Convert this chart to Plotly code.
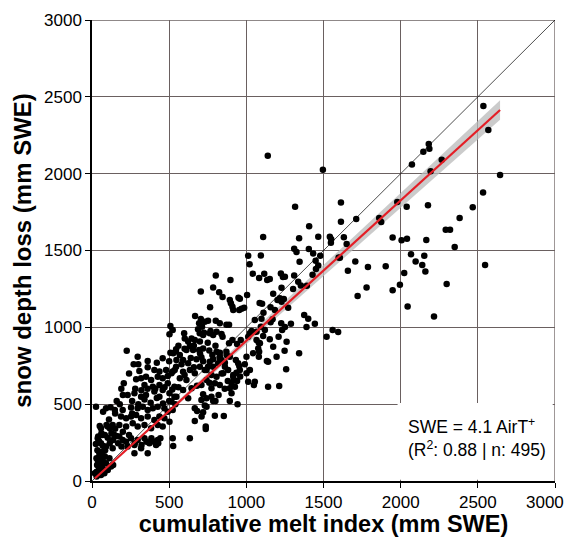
import numpy as np
import plotly.graph_objects as go

# ---------------- data ----------------
# cumulative melt index (x) and snow depth loss (y), mm SWE, grouped by region
A_x = [2536,2568,2644,2534,2547,2182,2186,2147,2266,2073,
       2194,1978,2039,2177,2467,2382,1712,1861,1874,1613,
       1613,1632,1650,1606,1948,2006,2041,2166,2292,2320,
       2350,1706,1658,1788,1903,2067,2097,2153,2140,2160,
       2023,1995,1948,1779,1721,2298,2045,2216]
A_y = [2440,2284,1991,1878,1405,2193,2162,2143,2091,2060,
       2015,1815,1785,1794,1781,1711,1705,1711,1685,1813,
       1687,1587,1542,1453,1585,1566,1577,1568,1635,1635,
       1522,1429,1368,1392,1397,1475,1429,1466,1405,1364,
       1353,1277,1241,1260,1204,1282,1136,1071]

B_x = [1139,1496,1316,1407,1109,1342,1466,1541,1550,1548,
       1310,1325,1405,1433,1479,1598,1012,1094,1021,1345,
       1449,1466,1451,1042,1116,1083,1135,1152,1224,1237,
       1250,1310,1336,1353,1429,1392,1228,1303,897,1174,
       1005,949,1217,1243]
B_y = [2117,2026,1785,1657,1588,1579,1589,1590,1573,1551,
       1511,1490,1509,1481,1466,1455,1466,1468,1410,1427,
       1433,1403,1379,1349,1349,1321,1308,1314,1351,1327,
       1329,1338,1297,1273,1342,1271,1258,1249,1308,1219,
       1210,1193,1189,1184]

C_x = [1086,1102,1157,1202,1228,1111,1271,1375,1401,1055,
       1098,1170,1226,1250,1232,1289,1157,1390,1444,1520,
       1559,1595,1066,1109,1152,1209,1261,1081,1077,1081,
       1174,1248,1342,1133,1258]
C_y = [1158,1154,1130,1178,1167,1095,1128,1080,1056,1048,
       1056,1052,1026,1002,982,1023,1033,1002,1023,939,
       982,969,971,943,922,939,906,900,863,809,
       874,848,831,781,727]

D_x = [802,785,824,846,705,765,893,900,910,915,
       954,969,986,958,1185,668,705,694,713,752,
       802,828,871,888,597,687,698,720,763,785,
       839,846,888,910,940,964,1012,1023,1034,1094,
       1120,1196,1141,1066,1088,1083,1044,1001,1001,1012,
       954,932,871,893,861,1055,1141,1213,807,828,
       839,817,785,763,752,731,936,915,919,940,
       796,828,774]
D_y = [1338,1260,1228,1197,1234,1130,1178,1156,1134,1113,
       1113,1121,1128,1186,1113,1074,1054,1026,1004,1043,
       1043,1026,1017,1017,961,987,961,950,961,950,
       956,939,896,917,891,917,939,961,976,1004,
       982,809,776,917,896,841,831,809,701,646,
       748,787,841,809,770,646,614,618,841,813,
       787,766,792,776,744,722,705,679,657,651,
       636,625,603]

E_x = [601,623,645,666,634,612,655,699,694,720,
       543,526,569,547,590,623,677,709,634,666,
       590,569,515,536,612,699,785,742,828,828,
       872,861,774,742,709,807,850,882,947,958,
       915,904,1023,926,731,726,768,807]
E_y = [928,907,928,918,878,852,852,907,852,863,
       842,831,820,787,787,766,792,805,722,701,
       711,668,701,722,657,744,744,722,798,835,
       820,744,690,657,625,679,701,722,766,722,
       690,636,722,614,1037,965,976,971]

F_x = [26,91,199,253,296,329,361,394,426,469,491,523,
       231,275,318,350,404,437,458,502,534,
       188,221,253,286,318,361,404,437,469,
       177,221,264,296,340,383,426,458,502,
       58,102,134,69,37,102,145,177,
       58,91,134,48,80,113,37,58,91,69,48,102,123,80,58,48,33,
       221,253,296,340,372,404,231,275,318,199,
       275,361,426,415,443,523]
F_y = [484,473,462,478,473,484,462,473,484,473,451,462,
       560,571,549,560,582,549,592,571,549,
       419,408,419,430,408,419,397,419,408,
       365,354,376,354,365,343,365,354,386,
       343,354,365,300,278,282,300,289,
       245,224,213,180,159,148,137,104,115,83,72,72,94,50,39,159,104,
       256,278,267,278,245,256,224,235,213,267,
       180,180,267,235,278,278]

G_x = [893,904,893,943,720,742,774,785,731,709,
       666,681,720,742,796,854,666,737,737,634,
       526,623,590,547,515,645,1049]
G_y = [603,571,521,499,564,538,549,521,491,527,
       473,456,447,484,425,423,391,354,339,278,
       228,538,592,549,517,603,625]

H_x = [508,523,502,225,296,361,458,508,545,307,
       361,404,437,480,523,545,286,318,350,383,
       426,458,491,206,340,394,437,491,534]
H_y = [1009,983,955,848,809,781,798,835,857,716,
       740,722,712,722,712,744,662,668,679,657,
       679,668,683,636,625,614,625,636,614]

I_x = [72,148,50,94,115,40,61,83,126,158,
       137,115,169,191,277,321,353,385,61,72,
       83,40,29,50,18,57,137,429,710]
I_y = [451,462,358,365,343,289,310,300,310,293,
       267,245,245,224,245,235,256,278,115,126,
       159,115,148,93,50,83,104,245,419]

J_x = [260,300,340,380,420,460,500,540,280,320,
       360,410,470,520,580,640,700,760,800,560,
       600,660,750,780,720,660,600,560,680,760,
       300,420,500,270,240,200,160,190,150,30,
       45,55,35,65,25,70,45,85,30,60,
       40,820,860,880,960,990,840,800,110,150,
       200,240,260,180,120]
J_y = [520,500,530,510,540,505,520,500,600,590,
       600,600,610,595,760,800,830,850,880,880,
       860,880,900,820,780,740,690,610,620,640,
       760,770,780,760,700,560,520,600,440,60,
       90,130,200,190,240,230,260,200,30,60,
       40,560,600,650,680,760,700,520,400,340,
       320,300,440,500,480]

# regression (through origin) and its confidence band
fit_slope = 0.913
ci_frac = 0.024

axis_ticks = [0, 500, 1000, 1500, 2000, 2500, 3000]
axis_max = 3000

x_title = "cumulative melt index (mm SWE)"
y_title = "snow depth loss (mm SWE)"
stats_text = "SWE = 4.1 AirT<sup>+</sup><br>(R<sup>2</sup>: 0.88 | n: 495)"

# ---------------- build ----------------
xs = np.array(A_x + B_x + C_x + D_x + E_x + F_x + G_x + H_x + I_x + J_x, dtype=float)
ys = np.array(A_y + B_y + C_y + D_y + E_y + F_y + G_y + H_y + I_y + J_y, dtype=float)

xfit = np.linspace(xs.min(), xs.max(), 100)
yfit = fit_slope * xfit
upper = yfit + ci_frac * xfit
lower = yfit - ci_frac * xfit

FONT = "Liberation Sans, Arial, sans-serif"
grid_col = "#6a6060"

fig = go.Figure()
fig.add_trace(go.Scatter(
    x=np.concatenate([xfit, xfit[::-1]]),
    y=np.concatenate([upper, lower[::-1]]),
    fill="toself", fillcolor="rgba(185,185,185,0.75)",
    line=dict(width=0), mode="lines", hoverinfo="skip", showlegend=False))
fig.add_trace(go.Scatter(
    x=[0, axis_max], y=[0, axis_max], mode="lines",
    line=dict(color="black", width=0.7), showlegend=False))
fig.add_trace(go.Scatter(
    x=xs, y=ys, mode="markers",
    marker=dict(color="black", size=6.5, line=dict(width=0)),
    showlegend=False))
fig.add_trace(go.Scatter(
    x=xfit, y=yfit, mode="lines",
    line=dict(color="#e41e26", width=2.2), showlegend=False))

# frame lines at the top and right edge of the plot (grid colour)
fig.add_shape(type="line", xref="x", yref="y", x0=axis_max, x1=axis_max,
              y0=0, y1=axis_max, line=dict(color=grid_col, width=1.3),
              layer="between")
fig.add_shape(type="line", xref="x", yref="y", x0=0, x1=axis_max,
              y0=axis_max, y1=axis_max, line=dict(color=grid_col, width=1.3),
              layer="between")

# white box behind the statistics text
fig.add_shape(type="rect", xref="x", yref="y",
              x0=1980, x1=2985, y0=8, y1=507,
              fillcolor="white", line=dict(width=0), layer="between")
fig.add_annotation(x=2035, y=284, xref="x", yref="y",
                   text=stats_text, showarrow=False,
                   xanchor="left", yanchor="middle", align="left",
                   font=dict(family=FONT, size=17.5, color="black"))

tick_font = dict(family=FONT, size=17, color="black")
x_ticktext = [str(v) for v in axis_ticks[:-1]] + [""]
# the last x label is pushed left so that it stays inside the page
fig.add_annotation(x=axis_max, y=0, xref="x", yref="paper",
                   text=str(axis_ticks[-1]), showarrow=False,
                   xanchor="right", yanchor="middle", xshift=11, yshift=-21,
                   font=tick_font)

axis_common = dict(
    range=[0, axis_max], tickvals=axis_ticks,
    showgrid=True, gridcolor=grid_col, gridwidth=1.2,
    zeroline=False, showline=True, linecolor="black", linewidth=1.5,
    ticks="outside", ticklen=5, tickwidth=1.2, tickcolor="black",
    tickfont=tick_font,
    automargin=False, ticklabeloverflow="allow",
)
fig.update_xaxes(**axis_common, ticktext=x_ticktext,
                 title=dict(text=f"<b>{x_title}</b>", standoff=8,
                            font=dict(family=FONT, size=23.5, color="black")))
fig.update_yaxes(**axis_common,
                 title=dict(text=f"<b>{y_title}</b>", standoff=6,
                            font=dict(family=FONT, size=24, color="black")))

fig.update_layout(
    width=565, height=537,
    margin=dict(l=92, r=10, t=20, b=56),
    plot_bgcolor="white", paper_bgcolor="white",
    showlegend=False,
)

fig.write_html("out.html")
